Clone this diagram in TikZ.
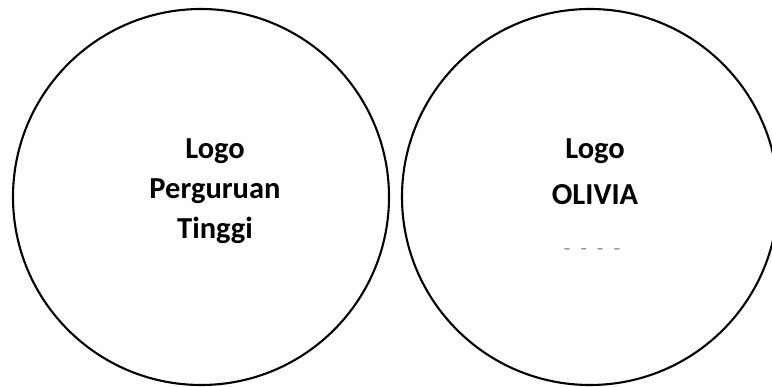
\documentclass[tikz,border=0pt]{standalone}
\usepackage{fontspec}
\setmainfont{Carlito}
\begin{document}
\begin{tikzpicture}[x=1pt,y=-1pt,
  ring/.style={circle,draw=black,line width=2.1pt,minimum size=376pt,inner sep=0pt},
  lbl/.style={font=\fontsize{30.5}{36}\selectfont\bfseries,inner sep=0pt,anchor=base},
  dashlbl/.style={font=\fontsize{22}{24}\selectfont,text=gray!80,inner sep=0pt,anchor=base}]
\useasboundingbox (0,0) rectangle (772,387);
\clip (0,0) rectangle (772,387);
\fill[white] (0,0) rectangle (772,387);
\node[ring] (left) at (201,197) {};
\node[ring] (right) at (590,197) {};
\node[lbl] (l1) at (215,159) {Logo};
\node[lbl] (l2) at (215,199) {Perguruan};
\node[lbl] (l3) at (215,239) {Tinggi};
\node[lbl] (r1) at (595,159) {Logo};
\node[lbl] (r2) at (595,205) {OLIVIA};
\node[dashlbl] (r3) at (592,256) {-\ \ -\ \ -\ \ -};
\end{tikzpicture}
\end{document}
